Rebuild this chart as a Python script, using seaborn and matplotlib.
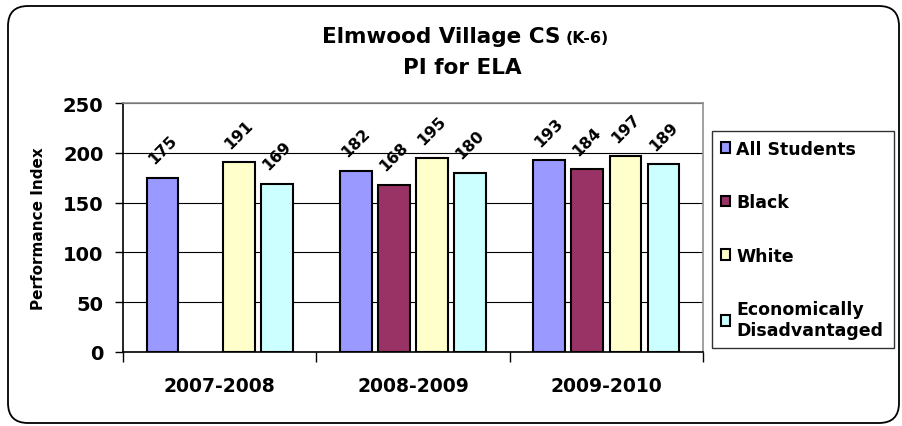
import pandas as pd
import numpy as np
import matplotlib
matplotlib.use("Agg")
import matplotlib.pyplot as plt
import matplotlib.patches as mpatches
import matplotlib.transforms as mtransforms
import seaborn as sns

years = ["2007-2008", "2008-2009", "2009-2010"]
groups = ["All Students", "Black", "White", "Economically\nDisadvantaged"]
all_students = [175, 182, 193]
black = [np.nan, 168, 184]
white = [191, 195, 197]
econ = [169, 180, 189]
colors = ["#9999FF", "#993366", "#FFFFCC", "#CCFFFF"]

rows = []
for g, vals in zip(groups, [all_students, black, white, econ]):
    for y, v in zip(years, vals):
        if not np.isnan(v):
            rows.append({"Year": y, "Group": g, "PI": v})
df = pd.DataFrame(rows)

sns.set_style("white", {"text.color": "black", "axes.labelcolor": "black",
                        "xtick.color": "black", "ytick.color": "black"})
plt.rcParams["font.family"] = ["DejaVu Sans"]
plt.rcParams["font.weight"] = "bold"

fig = plt.figure(figsize=(9.02, 4.27), dpi=100)
ax = fig.add_axes([123 / 902, 1 - 353 / 427, 580 / 902, 249 / 427])

sns.barplot(data=df, x="Year", y="PI", hue="Group", order=years, hue_order=groups,
            palette=colors, width=0.79, gap=0.17, edgecolor="black", linewidth=1.5,
            saturation=1, ax=ax)

for cont in ax.containers:
    ax.bar_label(cont, fmt="%d", rotation=45, padding=8, fontsize=11.5, fontweight="bold")

ax.set_ylim(0, 250)
ax.set_xlim(-0.5, 2.5)
ax.set_yticks([0, 50, 100, 150, 200, 250])
ax.yaxis.grid(True, color="black", linewidth=0.8)
ax.set_axisbelow(True)
ax.tick_params(axis="y", direction="out", length=6, width=1, color="black",
               labelsize=14, pad=8, left=True)
ax.set_xticks([0, 1, 2])
ax.set_xticklabels(years, fontsize=13.5, fontweight="bold")
ax.tick_params(axis="x", length=0, pad=17)
ax.set_xticks([-0.5, 0.5, 1.5, 2.5], minor=True)
ax.tick_params(axis="x", which="minor", direction="out", length=7, width=1, color="black",
               bottom=True)
for lbl in ax.get_yticklabels():
    lbl.set_fontweight("bold")
ax.set_xlabel("")
ax.set_ylabel("Performance Index", fontsize=11, fontweight="bold", labelpad=12)

ax.spines["left"].set_color("black")
ax.spines["bottom"].set_color("black")
ax.spines["top"].set_color("#909090")
ax.spines["right"].set_color("#909090")
for s in ax.spines.values():
    s.set_linewidth(1.2)
    s.set_visible(True)

handles, labels = ax.get_legend_handles_labels()
ax.get_legend().remove()
leg = fig.legend(handles, labels, loc="upper left",
                 bbox_to_anchor=(712 / 902, 1 - 132 / 427, (894 - 712) / 902, 0.0),
                 mode="expand", frameon=True, fancybox=False, edgecolor="black",
                 fontsize=12.5, handlelength=0.55, handleheight=0.55, handletextpad=0.35,
                 labelspacing=2.05, borderpad=0.5, borderaxespad=0)
leg.get_frame().set_linewidth(1.0)
for t in leg.get_texts():
    t.set_fontweight("bold")

fig.text(560 / 902, 1 - 43 / 427, "Elmwood Village CS", ha="right", va="baseline",
         fontsize=15.5, fontweight="bold")
fig.text(566 / 902, 1 - 43 / 427, "(K-6)", ha="left", va="baseline",
         fontsize=11.5, fontweight="bold")
fig.text(462 / 902, 1 - 68 / 427, "PI for ELA", ha="center", va="center",
         fontsize=15.5, fontweight="bold")

frame = mpatches.FancyBboxPatch((8, 3), 891, 417, boxstyle="round,pad=0,rounding_size=20",
                                transform=mtransforms.IdentityTransform(), fill=False,
                                edgecolor="black", linewidth=1.3)
fig.add_artist(frame)

plt.savefig("out.png", dpi=100)
